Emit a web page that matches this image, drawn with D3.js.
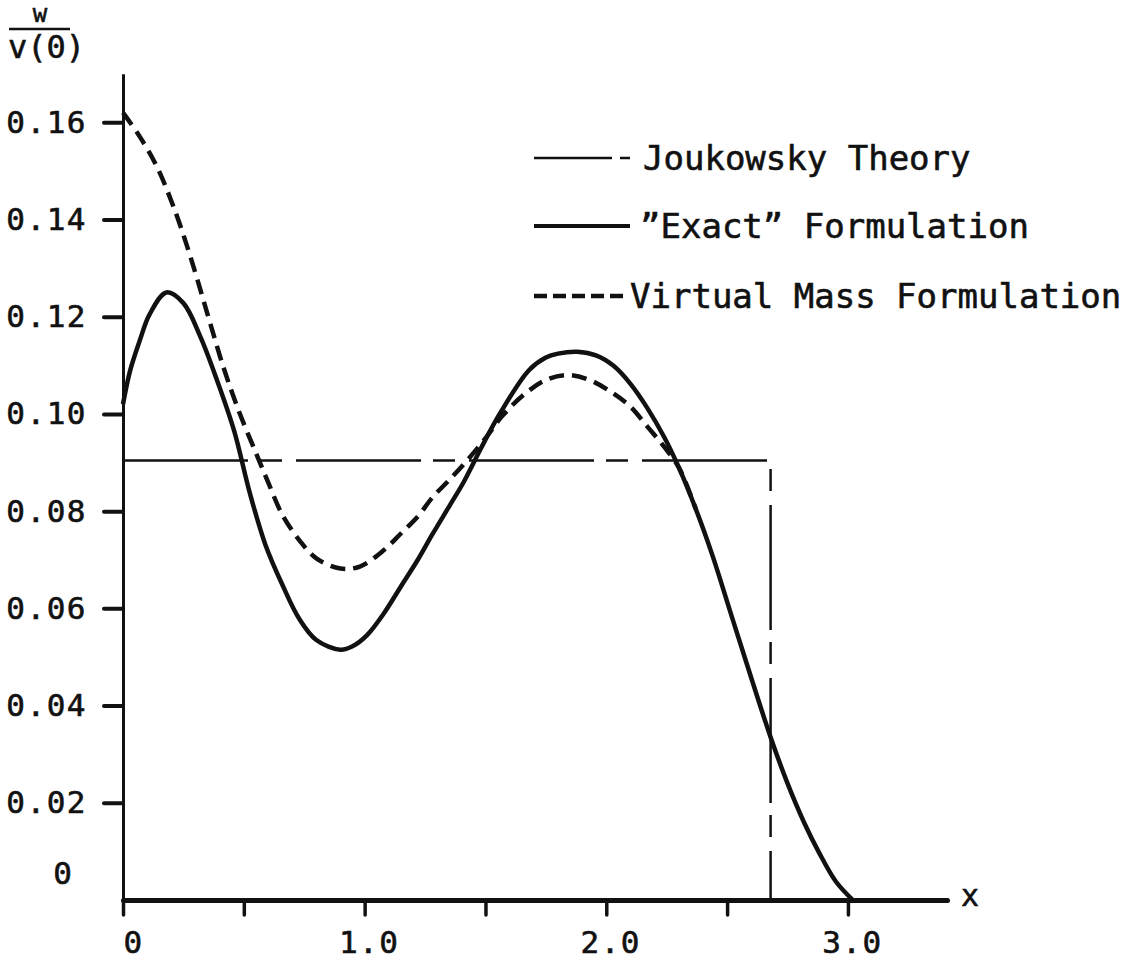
<!DOCTYPE html>
<html>
<head>
<meta charset="utf-8">
<script src="https://cdn.jsdelivr.net/npm/d3@7"></script>
<style>
  html, body { margin: 0; padding: 0; background: #fff; }
  svg { display: block; }
  text { font-family: "DejaVu Sans Mono", "Liberation Mono", monospace; fill: #111; stroke: #111; stroke-width: 0.6px; }
</style>
</head>
<body>
<svg id="chart" width="1138" height="963"></svg>
<script>
// Axial velocity ratio w / v(0) along x for three formulations
const exactX = [0.00, 0.03, 0.07, 0.11, 0.18, 0.25, 0.32, 0.39, 0.46, 0.525, 0.59, 0.66, 0.73, 0.80, 0.90, 0.95,
                1.01, 1.08, 1.15, 1.22, 1.28, 1.35, 1.41, 1.48, 1.56, 1.68, 1.75, 1.80, 1.88, 1.96, 2.03, 2.10, 2.17,
                2.24, 2.30, 2.37, 2.44, 2.51, 2.58, 2.68, 2.75, 2.82, 2.88, 2.95, 3.02];
const exactW = [0.102, 0.109, 0.1152, 0.1205, 0.1250, 0.1228, 0.1159, 0.1068, 0.0965, 0.0837, 0.0730, 0.0648, 0.0578, 0.0535, 0.0515, 0.0522,
                0.0545, 0.0590, 0.0645, 0.0700, 0.0752, 0.0810, 0.0860, 0.0928, 0.1001, 0.1090, 0.1116, 0.1124, 0.1128, 0.1120, 0.1099, 0.1062, 0.1012,
                0.0952, 0.0890, 0.0805, 0.0708, 0.0598, 0.0488, 0.0335, 0.0240, 0.0158, 0.0098, 0.0038, 0.0000];

const virtualX = [0.00, 0.07, 0.14, 0.21, 0.28, 0.35, 0.415, 0.48, 0.55, 0.60, 0.66, 0.73, 0.80, 0.90, 0.98,
                  1.08, 1.15, 1.22, 1.28, 1.35, 1.42, 1.50, 1.57, 1.66, 1.75, 1.84, 1.93, 2.03, 2.10, 2.17,
                  2.24, 2.30, 2.37];
const virtualW = [0.162, 0.157, 0.1509, 0.1425, 0.1322, 0.1205, 0.1097, 0.1005, 0.0920, 0.0860, 0.0792, 0.0740, 0.0703, 0.0682, 0.0686,
                  0.0720, 0.0754, 0.0789, 0.0828, 0.0864, 0.0902, 0.0950, 0.0996, 0.1040, 0.1070, 0.1080, 0.1070, 0.1042, 0.1015, 0.0974,
                  0.0932, 0.0890, 0.0805];

// Joukowsky theory: constant level that drops to zero at the end of the range
const joukowskyX = [0.00, 2.68, 2.68];
const joukowskyW = [0.0904, 0.0904, 0.0];

const yTicks = [0.02, 0.04, 0.06, 0.08, 0.10, 0.12, 0.14, 0.16];
const yTickLabels = ["0.02", "0.04", "0.06", "0.08", "0.10", "0.12", "0.14", "0.16"];
const xTicks = [0, 0.5, 1.0, 1.5, 2.0, 2.5, 3.0];
const xTickLabels = ["0", "", "1.0", "", "2.0", "", "3.0"];

const legendLabels = ["Joukowsky Theory", "\u201DExact\u201D Formulation", "Virtual Mass Formulation"];

const svg = d3.select("#chart");
const ink = "#111";

const x = d3.scaleLinear().domain([0, 3.41]).range([123, 947]);
const y = d3.scaleLinear().domain([0, 0.17]).range([900, 73.7]);

// Vertical axis
const yAxis = svg.append("g")
  .attr("transform", `translate(${x(0)},0)`)
  .call(d3.axisLeft(y).tickValues(yTicks).tickSize(19).tickSizeOuter(0).tickPadding(17)
    .tickFormat((d, i) => yTickLabels[i]));
yAxis.select(".domain").attr("stroke", ink).attr("stroke-width", 3);
yAxis.selectAll(".tick line").attr("stroke", ink).attr("stroke-width", 4).attr("stroke-linecap", "round");
yAxis.selectAll(".tick text")
  .attr("font-family", "DejaVu Sans Mono, monospace")
  .attr("font-size", 31).attr("fill", ink).attr("letter-spacing", 1.5);

// Zero label of the vertical axis
svg.append("text").attr("x", 72).attr("y", 884).attr("text-anchor", "end")
  .attr("font-size", 31).text("0");

// Horizontal axis
const xAxis = svg.append("g")
  .attr("transform", `translate(0,${y(0)})`)
  .call(d3.axisBottom(x).tickValues(xTicks).tickSize(15).tickSizeOuter(0).tickPadding(16)
    .tickFormat((d, i) => xTickLabels[i]));
xAxis.select(".domain").attr("stroke", ink).attr("stroke-width", 5).attr("stroke-linecap", "round");
xAxis.selectAll(".tick line").attr("stroke", ink).attr("stroke-width", 3.5).attr("stroke-linecap", "round");
xAxis.selectAll(".tick text")
  .attr("font-family", "DejaVu Sans Mono, monospace")
  .attr("font-size", 31).attr("fill", ink).attr("letter-spacing", 1.5)
  .attr("dx", d => d === 0 ? 10 : 4);

svg.append("text").attr("x", 970).attr("y", 906).attr("text-anchor", "middle")
  .attr("font-size", 30).text("x");

// Vertical axis title as a fraction
svg.append("text").attr("x", 40).attr("y", 22).attr("text-anchor", "middle")
  .attr("font-size", 24).text("w");
svg.append("line").attr("x1", 9).attr("x2", 70).attr("y1", 29).attr("y2", 29)
  .attr("stroke", ink).attr("stroke-width", 2.5);
svg.append("text").attr("x", 8).attr("y", 58).attr("font-size", 32).text("v(0)");

// Curves
const line = d3.line().x(d => x(d[0])).y(d => y(d[1])).curve(d3.curveCatmullRom.alpha(0.5));
const straight = d3.line().x(d => x(d[0])).y(d => y(d[1]));

svg.append("path")
  .attr("d", straight(d3.zip(joukowskyX, joukowskyW)))
  .attr("fill", "none").attr("stroke", ink).attr("stroke-width", 2.5)
  .attr("stroke-dasharray", "125,12,22,14");

svg.append("path")
  .attr("d", line(d3.zip(virtualX, virtualW)))
  .attr("fill", "none").attr("stroke", ink).attr("stroke-width", 4.5)
  .attr("stroke-dasharray", "15,8");

svg.append("path")
  .attr("d", line(d3.zip(exactX, exactW)))
  .attr("fill", "none").attr("stroke", ink).attr("stroke-width", 4.5)
  .attr("stroke-linejoin", "round");

// Legend
const legendRows = [
  { y: 158, dash: "78,8,10,100", width: 2.5, textX: 643 },
  { y: 226, dash: null, width: 4, textX: 640 },
  { y: 296, dash: "13,6", width: 4.5, textX: 630 }
];
legendRows.forEach((r, i) => {
  svg.append("line").attr("x1", 534).attr("x2", i === 2 ? 627 : 630)
    .attr("y1", r.y).attr("y2", r.y)
    .attr("stroke", ink).attr("stroke-width", r.width)
    .attr("stroke-dasharray", r.dash);
  svg.append("text").attr("x", r.textX).attr("y", r.y + 12)
    .attr("font-size", 34).text(legendLabels[i]);
});
</script>
</body>
</html>
